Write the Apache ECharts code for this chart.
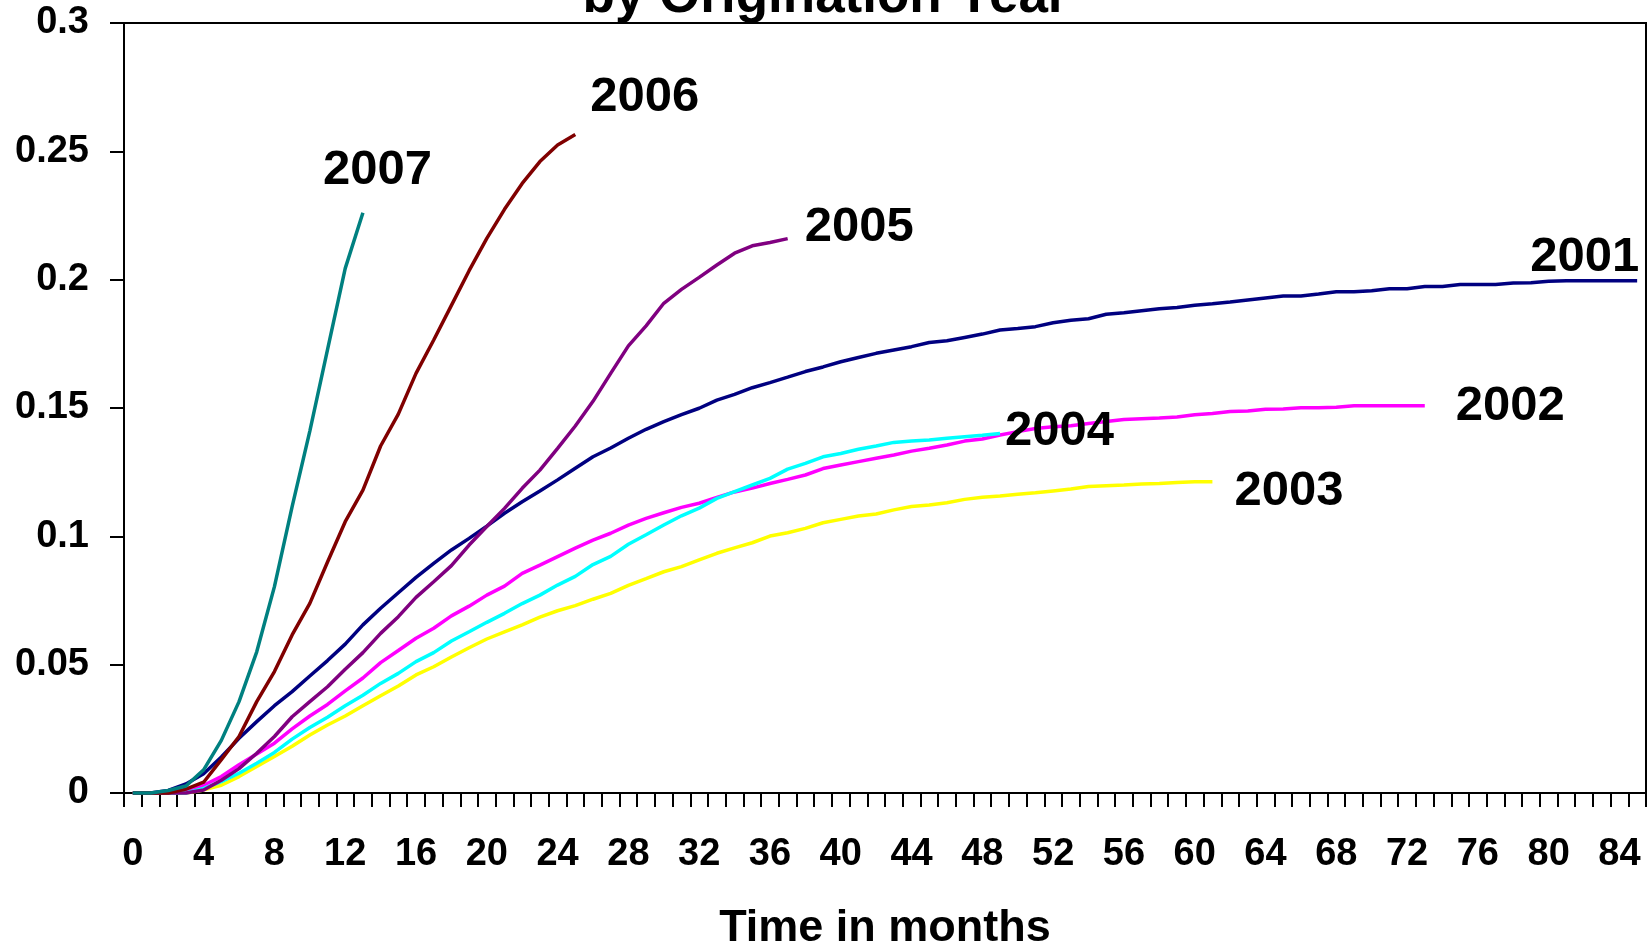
<!DOCTYPE html>
<html>
<head>
<meta charset="utf-8">
<script src="https://cdn.jsdelivr.net/npm/echarts@6/dist/echarts.min.js"></script>
<style>
  html, body { margin: 0; padding: 0; background: #ffffff; }
  #chart { width: 1651px; height: 946px; }
</style>
</head>
<body>
<div id="chart"></div>
<script>
// Months since origination (category axis)
const months = [
  0, 1, 2, 3, 4, 5, 6, 7, 8, 9, 10, 11, 12, 13, 14, 15, 16, 17, 18, 19,
  20, 21, 22, 23, 24, 25, 26, 27, 28, 29, 30, 31, 32, 33, 34, 35, 36, 37, 38, 39,
  40, 41, 42, 43, 44, 45, 46, 47, 48, 49, 50, 51, 52, 53, 54, 55, 56, 57, 58, 59,
  60, 61, 62, 63, 64, 65, 66, 67, 68, 69, 70, 71, 72, 73, 74, 75, 76, 77, 78, 79,
  80, 81, 82, 83, 84, 85
];

// Cumulative rate by origination year
const y2001 = [
  0, 0, 0.001, 0.0035, 0.0075, 0.014, 0.0213, 0.0278, 0.034, 0.0395,
  0.0456, 0.0516, 0.058, 0.0655, 0.072, 0.078, 0.084, 0.0895, 0.0947, 0.0992,
  0.104, 0.109, 0.1135, 0.1177, 0.122, 0.1265, 0.131, 0.1344, 0.1382, 0.1417,
  0.1447, 0.1474, 0.1499, 0.1531, 0.1553, 0.1579, 0.1599, 0.162, 0.1642, 0.166,
  0.168, 0.1697, 0.1713, 0.1726, 0.1739, 0.1755, 0.1762, 0.1775, 0.1788, 0.1804,
  0.181, 0.1817, 0.1832, 0.1842, 0.1848, 0.1865, 0.1871, 0.1879, 0.1887, 0.1892,
  0.19, 0.1906, 0.1913, 0.1921, 0.1929, 0.1936, 0.1936, 0.1944, 0.1953, 0.1953,
  0.1957, 0.1965, 0.1965, 0.1973, 0.1973, 0.1981, 0.1981, 0.1981, 0.1987, 0.1988,
  0.1994, 0.1996, 0.1996, 0.1996, 0.1996, 0.1996
];
const y2002 = [
  0, 0, 0, 0.0005, 0.003, 0.0064, 0.011, 0.0152, 0.0194, 0.025,
  0.030, 0.0345, 0.0398, 0.0448, 0.0508, 0.0555, 0.0603, 0.0642, 0.069, 0.0728,
  0.0771, 0.0806, 0.0856, 0.0888, 0.0921, 0.0954, 0.0985, 0.1012, 0.1044, 0.107,
  0.1092, 0.1113, 0.1129, 0.1152, 0.1173, 0.1188, 0.1206, 0.1222, 0.1239, 0.1264,
  0.1278, 0.1291, 0.1304, 0.1317, 0.1332, 0.1343, 0.1356, 0.1371, 0.1379, 0.1395,
  0.1408, 0.142, 0.1427, 0.1431, 0.144, 0.1447, 0.1455, 0.1458, 0.1461, 0.1465,
  0.1474, 0.1479, 0.1486, 0.1488, 0.1495, 0.1496, 0.1501, 0.1501, 0.1503, 0.1509,
  0.1509, 0.1509, 0.1509, 0.1509
];
const y2003 = [
  0, 0, 0, 0, 0.0012, 0.003, 0.0064, 0.0103, 0.0142, 0.0182,
  0.0226, 0.0265, 0.03, 0.034, 0.0379, 0.0417, 0.046, 0.0492, 0.053, 0.0566,
  0.06, 0.0628, 0.0655, 0.0685, 0.071, 0.073, 0.0755, 0.0778, 0.0809, 0.0835,
  0.0862, 0.0882, 0.0908, 0.0934, 0.0955, 0.0975, 0.1001, 0.1014, 0.1031, 0.1053,
  0.1066, 0.1079, 0.1087, 0.1103, 0.1116, 0.1122, 0.1131, 0.1144, 0.1152, 0.1157,
  0.1164, 0.117, 0.1177, 0.1184, 0.1194, 0.1197, 0.12, 0.1204, 0.1206, 0.121,
  0.1213, 0.1213
];
const y2004 = [
  0, 0, 0, 0, 0.0018, 0.0044, 0.0077, 0.0116, 0.0158, 0.021,
  0.0255, 0.0295, 0.034, 0.0381, 0.0427, 0.0466, 0.0512, 0.0547, 0.0592, 0.0628,
  0.0665, 0.07, 0.0738, 0.0771, 0.081, 0.0844, 0.089, 0.0922, 0.0969, 0.1006,
  0.1044, 0.108, 0.111, 0.1148, 0.1174, 0.12, 0.1226, 0.1262, 0.1284, 0.131,
  0.1323, 0.1339, 0.1352, 0.1366, 0.1371, 0.1375, 0.1382, 0.1388, 0.1394, 0.1401
];
const y2005 = [
  0, 0, 0, 0, 0.0012, 0.005, 0.0095, 0.0155, 0.022, 0.0297,
  0.0356, 0.0414, 0.0482, 0.0547, 0.0622, 0.0687, 0.0762, 0.0823, 0.0886, 0.0966,
  0.1038, 0.1109, 0.1187, 0.1258, 0.1343, 0.143, 0.1526, 0.1635, 0.1742, 0.182,
  0.1908, 0.1962, 0.2009, 0.2057, 0.2103, 0.2132, 0.2145, 0.216
];
const y2006 = [
  0, 0, 0, 0.0015, 0.0042, 0.013, 0.022, 0.0356, 0.0473, 0.0616,
  0.0739, 0.09, 0.1057, 0.118, 0.1352, 0.1476, 0.1635, 0.1765, 0.19, 0.2035,
  0.2161, 0.2274, 0.2375, 0.246, 0.2525, 0.2566
];
const y2007 = [
  0, 0, 0.001, 0.0027, 0.009, 0.0205, 0.0356, 0.055, 0.0804, 0.1116,
  0.141, 0.1727, 0.2044, 0.2261
];

const yearNames = ['2001', '2002', '2003', '2004', '2005', '2006', '2007'];
const yearData = [y2001, y2002, y2003, y2004, y2005, y2006, y2007];
const yearColors = ['#000080', '#FF00FF', '#FFFF00', '#00FFFF', '#800080', '#800000', '#008080'];
// where each year's tag sits relative to the end of its line
const tagOffsets = [[-115, -23], [23, 1], [14, 10], [-3, -2], [9, -11], [7, -37], [-48, -42]];

const FONT = "'Liberation Sans', Arial, Helvetica, sans-serif";

const chart = echarts.init(document.getElementById('chart'), null, { renderer: 'canvas' });

const series = yearNames.map((name, k) => ({
  name: name,
  type: 'line',
  data: yearData[k],
  symbol: 'none',
  showSymbol: false,
  smooth: false,
  clip: false,
  lineStyle: { color: yearColors[k], width: 3.5 },
  itemStyle: { color: yearColors[k] },
  endLabel: {
    show: true,
    formatter: '{a}',
    offset: tagOffsets[k],
    fontFamily: FONT,
    fontSize: 49,
    fontWeight: 'bold',
    color: '#000000'
  },
  emphasis: { disabled: true },
  z: 2 + k
}));

chart.setOption({
  animation: false,
  backgroundColor: '#ffffff',
  title: {
    text: 'by Origination Year',
    left: 'center',
    top: -34,
    textStyle: { fontFamily: FONT, fontSize: 53, fontWeight: 'bold', color: '#000000' }
  },
  grid: {
    left: 124, right: 5, top: 23, bottom: 153,
    containLabel: false,
    outerBoundsMode: 'none',
    show: true, borderColor: '#000000', borderWidth: 2, backgroundColor: '#ffffff'
  },
  xAxis: {
    type: 'category',
    data: months.map(String),
    boundaryGap: true,
    axisLine: { show: true, lineStyle: { color: '#000000', width: 2 } },
    axisTick: { show: true, interval: 0, length: 14, inside: false, alignWithLabel: false,
                lineStyle: { color: '#000000', width: 2 } },
    axisLabel: { interval: 3, margin: 43, fontFamily: FONT, fontSize: 38, fontWeight: 'bold', color: '#000000' },
    splitLine: { show: false },
    name: 'Time in months',
    nameLocation: 'middle',
    nameGap: 113,
    nameTextStyle: { fontFamily: FONT, fontSize: 45, fontWeight: 'bold', color: '#000000' }
  },
  yAxis: {
    type: 'value',
    min: 0, max: 0.3, interval: 0.05,
    axisLine: { show: true, lineStyle: { color: '#000000', width: 2 } },
    axisTick: { show: true, length: 14, inside: false, lineStyle: { color: '#000000', width: 2 } },
    axisLabel: { margin: 35, fontFamily: FONT, fontSize: 38, fontWeight: 'bold', color: '#000000' },
    splitLine: { show: false }
  },
  tooltip: { show: false },
  series: series
});
</script>
</body>
</html>
